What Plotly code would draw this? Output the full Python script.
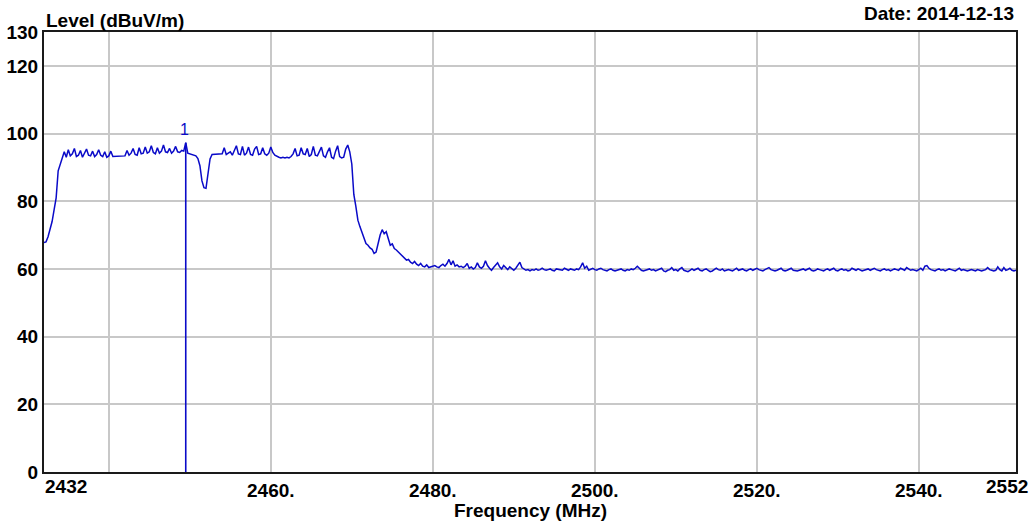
import plotly.graph_objects as go

# Sweep grid: 2432 MHz to 2552 MHz in 0.25 MHz steps
FREQ_START = 2432.0
FREQ_STEP = 0.25

# Measured field strength (dBuV/m), one row per 2 MHz of sweep
levels = [
    67.8, 68.0, 69.5, 71.5, 74.0, 77.5, 81.0, 89.0,   # 2432
    91.0, 92.5, 94.6, 93.0, 95.2, 93.4, 94.0, 95.6,   # 2434
    93.2, 93.6, 95.0, 93.0, 94.2, 95.4, 93.6, 93.4,   # 2436
    94.8, 93.2, 93.8, 95.2, 93.6, 93.2, 94.6, 93.0,   # 2438
    93.4, 94.8, 93.2, 93.2, 93.2, 93.2, 93.3, 93.2,   # 2440
    93.4, 95.0, 93.6, 94.2, 95.6, 93.8, 93.6, 95.8,   # 2442
    94.0, 94.2, 96.0, 94.2, 94.6, 96.4, 94.4, 94.0,   # 2444
    95.8, 94.2, 94.8, 96.6, 94.6, 94.4, 95.6, 94.2,   # 2446
    94.8, 96.2, 94.6, 94.4, 95.0, 94.8, 97.3, 94.2,   # 2448
    94.0, 94.0, 93.6, 93.4, 92.6, 90.5, 86.0, 84.0,   # 2450
    83.8, 87.5, 92.5, 93.8, 93.8, 93.9, 93.8, 93.8,   # 2452
    94.0, 95.8, 93.8, 94.2, 94.6, 93.6, 95.2, 96.4,   # 2454
    94.0, 93.8, 96.2, 93.6, 94.2, 96.0, 93.8, 93.6,   # 2456
    95.4, 96.2, 93.8, 94.0, 95.8, 94.0, 93.6, 94.2,   # 2458
    96.0, 94.4, 93.6, 93.2, 93.0, 92.8, 93.0, 92.8,   # 2460
    93.0, 92.8, 93.2, 94.0, 95.6, 93.4, 93.6, 95.8,   # 2462
    94.0, 93.8, 95.6, 93.2, 93.8, 96.2, 93.6, 93.4,   # 2464
    95.0, 96.0, 93.4, 93.0, 94.6, 95.8, 93.0, 92.6,   # 2466
    94.8, 96.4, 93.2, 92.8, 93.0, 95.4, 96.6, 94.6,   # 2468
    91.0, 82.0, 78.5, 74.4, 72.5, 71.0, 69.0, 67.5,   # 2470
    67.0, 66.2, 65.8, 64.6, 65.0, 67.6, 70.0, 71.6,   # 2472
    70.4, 71.0, 69.2, 67.0, 67.4, 66.0, 65.6, 65.0,   # 2474
    64.4, 63.6, 63.0, 62.6, 62.8, 62.0, 61.6, 62.2,   # 2476
    61.4, 61.0, 61.6, 60.8, 60.6, 61.2, 60.4, 60.6,   # 2478
    60.6, 61.0, 60.6, 60.4, 61.0, 61.4, 60.8, 61.6,   # 2480
    62.8, 61.2, 62.4, 60.8, 61.2, 60.6, 60.8, 60.4,   # 2482
    60.8, 61.6, 60.2, 60.6, 60.0, 60.4, 61.8, 60.6,   # 2484
    60.2, 60.8, 62.4, 61.0, 60.2, 59.6, 60.4, 61.2,   # 2486
    61.8, 60.6, 60.0, 61.0, 60.4, 59.8, 60.6, 60.2,   # 2488
    59.6, 60.2, 61.2, 62.0, 60.4, 60.0, 59.6, 59.8,   # 2490
    59.4, 59.8, 59.6, 60.0, 59.6, 59.8, 60.2, 59.8,   # 2492
    59.6, 59.8, 60.0, 59.6, 59.4, 60.0, 59.8, 59.8,   # 2494
    59.6, 60.2, 59.8, 59.6, 60.0, 59.8, 59.6, 60.0,   # 2496
    59.8, 60.6, 61.8, 60.2, 60.8, 59.6, 59.8, 60.2,   # 2498
    59.8, 59.6, 60.0, 60.2, 59.8, 59.6, 59.4, 59.8,   # 2500
    60.0, 59.6, 59.4, 59.6, 59.8, 60.0, 59.6, 59.4,   # 2502
    59.8, 59.6, 60.0, 59.8, 60.2, 60.8, 60.2, 59.6,   # 2504
    59.4, 59.6, 59.8, 60.0, 59.6, 59.8, 59.4, 59.6,   # 2506
    59.8, 60.2, 59.4, 59.2, 59.6, 59.8, 60.4, 59.6,   # 2508
    59.8, 59.4, 60.0, 60.4, 59.6, 59.4, 59.2, 59.6,   # 2510
    60.0, 59.6, 59.8, 60.2, 59.6, 59.4, 59.8, 60.0,   # 2512
    59.6, 59.2, 59.4, 59.8, 60.2, 59.8, 59.6, 60.0,   # 2514
    59.4, 59.6, 59.8, 59.6, 59.4, 59.8, 60.2, 59.6,   # 2516
    59.8, 60.0, 59.6, 59.4, 59.8, 60.0, 59.6, 59.8,   # 2518
    60.2, 59.8, 59.6, 59.4, 59.8, 60.0, 60.4, 59.8,   # 2520
    59.6, 59.4, 59.6, 59.8, 60.2, 59.6, 59.4, 59.6,   # 2522
    59.8, 60.2, 59.6, 59.4, 59.4, 59.6, 59.8, 60.0,   # 2524
    59.6, 59.8, 60.2, 59.6, 59.4, 59.6, 60.0, 59.8,   # 2526
    59.6, 59.4, 59.8, 60.0, 59.6, 59.8, 60.2, 59.6,   # 2528
    59.4, 59.8, 60.0, 59.6, 59.8, 59.4, 59.6, 60.2,   # 2530
    59.8, 59.6, 60.0, 59.8, 59.4, 59.6, 59.8, 60.0,   # 2532
    59.6, 59.8, 60.2, 59.8, 59.6, 59.4, 59.8, 60.0,   # 2534
    59.6, 59.8, 59.4, 59.6, 60.0, 59.8, 59.6, 60.2,   # 2536
    59.8, 59.6, 60.4, 60.0, 59.6, 59.8, 59.6, 59.4,   # 2538
    59.8, 60.2, 59.6, 60.8, 61.0, 60.2, 59.8, 59.6,   # 2540
    59.4, 59.8, 60.0, 59.6, 59.8, 59.4, 59.6, 60.0,   # 2542
    59.8, 59.6, 59.4, 59.8, 60.2, 59.6, 59.8, 59.6,   # 2544
    59.4, 59.6, 59.8, 59.6, 59.4, 59.8, 59.6, 59.4,   # 2546
    59.6, 59.8, 60.4, 59.8, 59.6, 59.4, 59.6, 60.6,   # 2548
    59.8, 59.4, 60.4, 59.6, 59.8, 60.2, 59.6, 59.4,   # 2550
    59.6,                                             # 2552
]
freqs = [FREQ_START + i * FREQ_STEP for i in range(len(levels))]

# Marker 1 on the peak
marker_freq = 2449.5
marker_level = 97.3
marker_label = "1"

# Axis ticks
x_grid = [2440, 2460, 2480, 2500, 2520, 2540]
x_grid_text = ["", "2460.", "2480.", "2500.", "2520.", "2540."]
x_start_label = "2432"
x_end_label = "2552"
y_ticks = [0, 20, 40, 60, 80, 100, 120, 130]
y_tick_text = ["0", "20", "40", "60", "80", "100", "120", "130"]

TRACE_BLUE = "rgb(10,10,200)"
FONT = "Arial, Liberation Sans, sans-serif"
bold = dict(family=FONT, size=19, color="black", weight="bold")

fig = go.Figure()
fig.add_trace(go.Scatter(
    x=freqs, y=levels, mode="lines",
    line=dict(color=TRACE_BLUE, width=1.5),
    hoverinfo="skip", showlegend=False,
))
fig.add_trace(go.Scatter(
    x=[marker_freq, marker_freq], y=[0, marker_level], mode="lines",
    line=dict(color=TRACE_BLUE, width=1.6),
    hoverinfo="skip", showlegend=False,
))

fig.update_layout(
    width=1035, height=527,
    margin=dict(l=44, r=19, t=32, b=55),
    paper_bgcolor="white", plot_bgcolor="white",
    showlegend=False,
    xaxis=dict(
        range=[2432, 2552], tickmode="array",
        tickvals=x_grid, ticktext=x_grid_text,
        showgrid=True, gridcolor="#c8c8c8", gridwidth=1.5,
        showline=True, linecolor="#1a1a1a", linewidth=2, mirror=True,
        ticks="", zeroline=False, tickfont=bold, automargin=False,
    ),
    yaxis=dict(
        range=[0, 130], tickmode="array",
        tickvals=y_ticks, ticktext=y_tick_text,
        showgrid=True, gridcolor="#c8c8c8", gridwidth=1.5,
        showline=True, linecolor="#1a1a1a", linewidth=2, mirror=True,
        ticks="", zeroline=False, tickfont=bold, automargin=False,
    ),
    annotations=[
        dict(text=x_start_label, x=2432, xref="x", xanchor="left", xshift=-1,
             y=-0.034, yref="paper", yanchor="middle", showarrow=False, font=bold),
        dict(text=x_end_label, x=2552, xref="x", xanchor="right", xshift=14,
             y=-0.034, yref="paper", yanchor="middle", showarrow=False, font=bold),
        dict(text="Frequency (MHz)", x=0.5, xref="paper", xanchor="center",
             y=-0.088, yref="paper", yanchor="middle", showarrow=False, font=bold),
        dict(text="Level (dBuV/m)", x=0, xref="paper", xanchor="left",
             y=1.027, yref="paper", yanchor="middle", showarrow=False, font=bold),
        dict(text="Date: 2014-12-13", x=1, xref="paper", xanchor="right",
             y=1.043, yref="paper", yanchor="middle", showarrow=False, font=bold),
        dict(text=marker_label, x=marker_freq, xref="x", xshift=-1,
             y=marker_level, yref="y", yanchor="middle", yshift=13,
             showarrow=False, font=dict(family=FONT, size=16, color=TRACE_BLUE)),
    ],
)

fig.write_html("out.html")
